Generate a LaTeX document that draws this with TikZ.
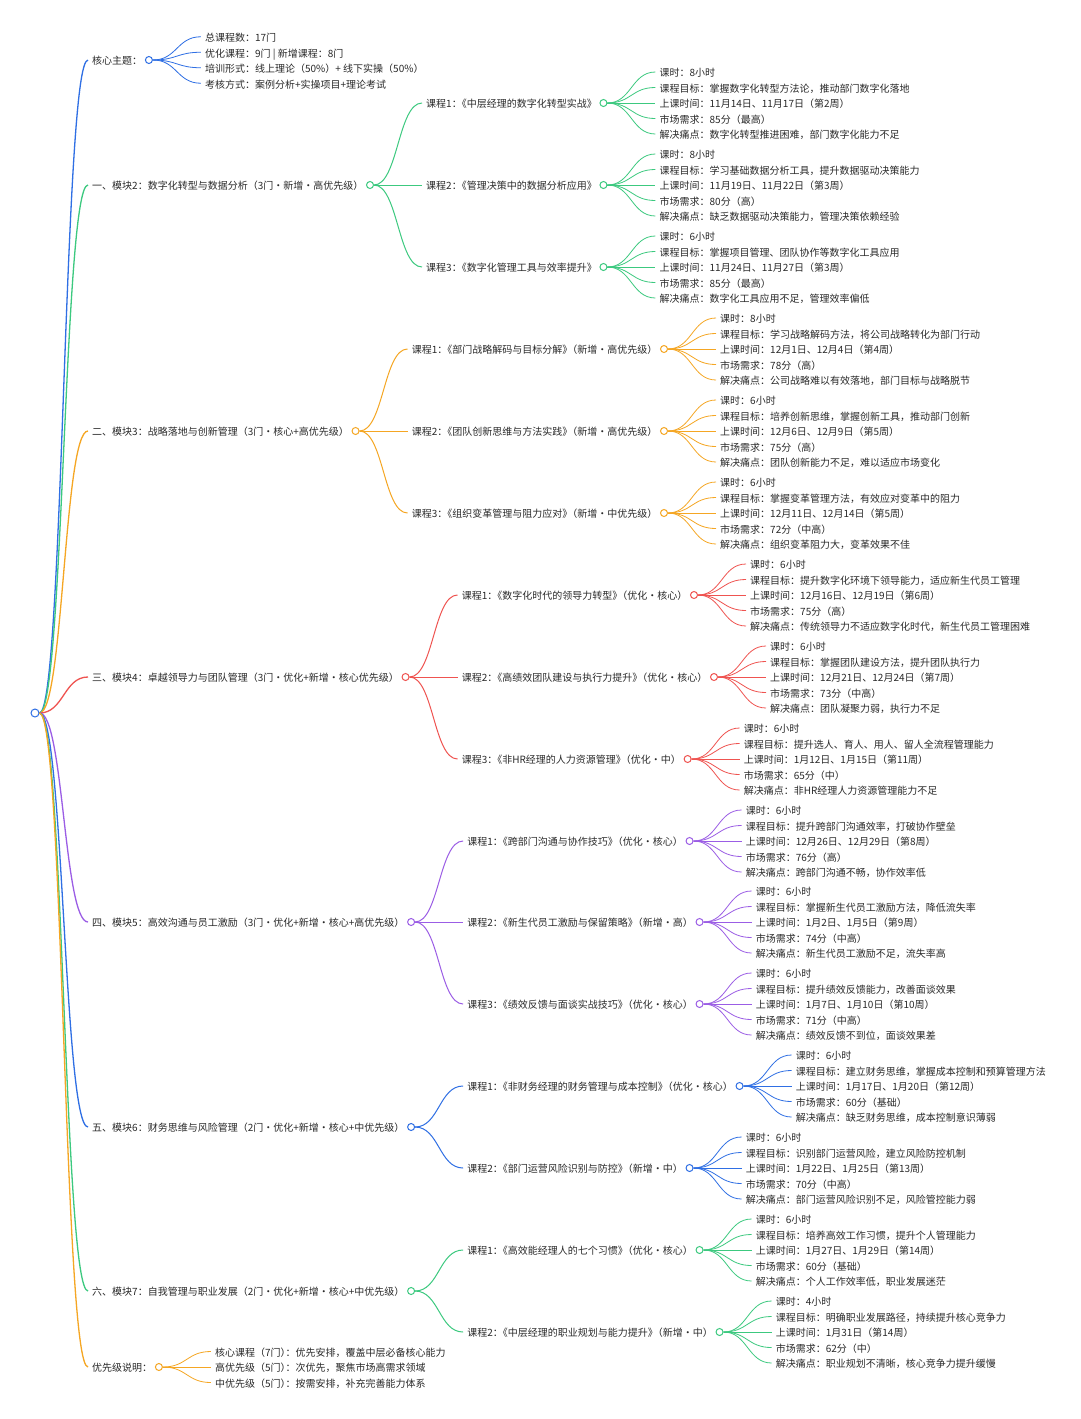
\documentclass[tikz,border=0pt]{standalone}
\usepackage{fontspec}
\setmainfont{Noto Sans CJK SC}
\usetikzlibrary{calc}
\definecolor{cblue}{HTML}{2F6FE4}
\definecolor{cgreen}{HTML}{3CC97F}
\definecolor{corange}{HTML}{F5A623}
\definecolor{cred}{HTML}{EF5350}
\definecolor{cpurple}{HTML}{9B5DE5}
\definecolor{txt}{HTML}{2A2A2A}
\newcommand\pk{\kern-.5em}
% #1 circle node, #2 name prefix, #3 colour, #4 first y offset, #5 list
\newcommand\mkleaves[5]{%
  \foreach \lt [count=\i] in {#5} {
    \node[lbl] (#2\i) at ($(#1.center)+(52,{#4+(\i-1)*15.5})$) {\lt};
    \draw[l3,draw=#3] (#1.east) to[link] (#2\i.west);
  }}
% #1 name, #2 parent circle, #3 colour, #4 y offset, #5 text
\newcommand\mkcourse[5]{%
  \node[lbl] (#1) at ($(#2.center)+(52,#4)$) {#5};
  \draw[l2,draw=#3] (#2.east) to[link] (#1.west);
  \node[dotc,draw=#3] (#1o) at ([xshift=2.5pt]#1.east) {};
}
\begin{document}
\begin{tikzpicture}[x=1pt,y=-1pt,
  lbl/.style={anchor=west,inner xsep=4pt,inner ysep=0pt,text height=10pt,text depth=0.4pt,
    font=\fontsize{10}{12}\selectfont,text=txt},
  dotc/.style={circle,fill=white,inner sep=0pt,minimum size=7pt,line width=1pt},
  l1/.style={line width=1.3pt},
  l2/.style={line width=1pt},
  l3/.style={line width=0.8pt},
  link/.style={to path={let \p1=(\tikztostart), \p2=(\tikztotarget) in
     .. controls ({0.5*\x1+0.5*\x2},\y1) and ({0.5*\x1+0.5*\x2},\y2) .. (\tikztotarget)}}]
\fill[white] (0,0) rectangle (1080,1419);
\useasboundingbox (0,0) rectangle (1080,1419);

\node[dotc,draw=cblue,minimum size=8pt] (root) at (35,713) {};

% level 1
\node[lbl] (core) at (88,60) {核心主题：};
\node[lbl] (m2) at (88,185) {一、模块2：数字化转型与数据分析（3门・新增・高优先级）};
\node[lbl] (m3) at (88,431) {二、模块3：战略落地与创新管理（3门・核心+高优先级）};
\node[lbl] (m4) at (88,677) {三、模块4：卓越领导力与团队管理（3门・优化+新增・核心优先级）};
\node[lbl] (m5) at (88,922) {四、模块5：高效沟通与员工激励（3门・优化+新增・核心+高优先级）};
\node[lbl] (m6) at (88,1127) {五、模块6：财务思维与风险管理（2门・优化+新增・核心+中优先级）};
\node[lbl] (m7) at (88,1291) {六、模块7：自我管理与职业发展（2门・优化+新增・核心+中优先级）};
\node[lbl] (pri) at (88,1367) {优先级说明：};

\draw[l1,draw=cblue] (root.east) to[link] (core.west);
\draw[l1,draw=cgreen] (root.east) to[link] (m2.west);
\draw[l1,draw=corange] (root.east) to[link] (m3.west);
\draw[l1,draw=cred] (root.east) to[link] (m4.west);
\draw[l1,draw=cpurple] (root.east) to[link] (m5.west);
\draw[l1,draw=cblue] (root.east) to[link] (m6.west);
\draw[l1,draw=cgreen] (root.east) to[link] (m7.west);
\draw[l1,draw=corange] (root.east) to[link] (pri.west);

\node[dotc,draw=cblue] (coreo) at ([xshift=2.5pt]core.east) {};
\node[dotc,draw=cgreen] (m2o) at ([xshift=2.5pt]m2.east) {};
\node[dotc,draw=corange] (m3o) at ([xshift=2.5pt]m3.east) {};
\node[dotc,draw=cred] (m4o) at ([xshift=2.5pt]m4.east) {};
\node[dotc,draw=cpurple] (m5o) at ([xshift=2.5pt]m5.east) {};
\node[dotc,draw=cblue] (m6o) at ([xshift=2.5pt]m6.east) {};
\node[dotc,draw=cgreen] (m7o) at ([xshift=2.5pt]m7.east) {};
\node[dotc,draw=corange] (prio) at ([xshift=2.5pt]pri.east) {};

% core topic
\mkleaves{coreo}{cl}{cblue}{-23.25}{总课程数：17门, 优化课程：9门 | 新增课程：8门, 培训形式：线上理论（50\%）+ 线下实操（50\%）, 考核方式：案例分析+实操项目+理论考试}

% module 2
\mkcourse{a1}{m2o}{cgreen}{-82}{课程1：\pk《中层经理的数字化转型实战》}
\mkcourse{a2}{m2o}{cgreen}{0}{课程2：\pk《管理决策中的数据分析应用》}
\mkcourse{a3}{m2o}{cgreen}{82}{课程3：\pk《数字化管理工具与效率提升》}
\mkleaves{a1o}{a1l}{cgreen}{-31}{课时：8小时, 课程目标：掌握数字化转型方法论，推动部门数字化落地, 上课时间：11月14日、11月17日（第2周）, 市场需求：85分（最高）, 解决痛点：数字化转型推进困难，部门数字化能力不足}
\mkleaves{a2o}{a2l}{cgreen}{-31}{课时：8小时, 课程目标：学习基础数据分析工具，提升数据驱动决策能力, 上课时间：11月19日、11月22日（第3周）, 市场需求：80分（高）, 解决痛点：缺乏数据驱动决策能力，管理决策依赖经验}
\mkleaves{a3o}{a3l}{cgreen}{-31}{课时：6小时, 课程目标：掌握项目管理、团队协作等数字化工具应用, 上课时间：11月24日、11月27日（第3周）, 市场需求：85分（最高）, 解决痛点：数字化工具应用不足，管理效率偏低}

% module 3
\mkcourse{b1}{m3o}{corange}{-82}{课程1：\pk《部门战略解码与目标分解》\pk（新增・高优先级）}
\mkcourse{b2}{m3o}{corange}{0}{课程2：\pk《团队创新思维与方法实践》\pk（新增・高优先级）}
\mkcourse{b3}{m3o}{corange}{82}{课程3：\pk《组织变革管理与阻力应对》\pk（新增・中优先级）}
\mkleaves{b1o}{b1l}{corange}{-31}{课时：8小时, 课程目标：学习战略解码方法，将公司战略转化为部门行动, 上课时间：12月1日、12月4日（第4周）, 市场需求：78分（高）, 解决痛点：公司战略难以有效落地，部门目标与战略脱节}
\mkleaves{b2o}{b2l}{corange}{-31}{课时：6小时, 课程目标：培养创新思维，掌握创新工具，推动部门创新, 上课时间：12月6日、12月9日（第5周）, 市场需求：75分（高）, 解决痛点：团队创新能力不足，难以适应市场变化}
\mkleaves{b3o}{b3l}{corange}{-31}{课时：6小时, 课程目标：掌握变革管理方法，有效应对变革中的阻力, 上课时间：12月11日、12月14日（第5周）, 市场需求：72分（中高）, 解决痛点：组织变革阻力大，变革效果不佳}

% module 4
\mkcourse{c1}{m4o}{cred}{-82}{课程1：\pk《数字化时代的领导力转型》\pk（优化・核心）}
\mkcourse{c2}{m4o}{cred}{0}{课程2：\pk《高绩效团队建设与执行力提升》\pk（优化・核心）}
\mkcourse{c3}{m4o}{cred}{82}{课程3：\pk《非HR经理的人力资源管理》\pk（优化・中）}
\mkleaves{c1o}{c1l}{cred}{-31}{课时：6小时, 课程目标：提升数字化环境下领导能力，适应新生代员工管理, 上课时间：12月16日、12月19日（第6周）, 市场需求：75分（高）, 解决痛点：传统领导力不适应数字化时代，新生代员工管理困难}
\mkleaves{c2o}{c2l}{cred}{-31}{课时：6小时, 课程目标：掌握团队建设方法，提升团队执行力, 上课时间：12月21日、12月24日（第7周）, 市场需求：73分（中高）, 解决痛点：团队凝聚力弱，执行力不足}
\mkleaves{c3o}{c3l}{cred}{-31}{课时：6小时, 课程目标：提升选人、育人、用人、留人全流程管理能力, 上课时间：1月12日、1月15日（第11周）, 市场需求：65分（中）, 解决痛点：非HR经理人力资源管理能力不足}

% module 5
\mkcourse{d1}{m5o}{cpurple}{-81}{课程1：\pk《跨部门沟通与协作技巧》\pk（优化・核心）}
\mkcourse{d2}{m5o}{cpurple}{0}{课程2：\pk《新生代员工激励与保留策略》\pk（新增・高）}
\mkcourse{d3}{m5o}{cpurple}{82}{课程3：\pk《绩效反馈与面谈实战技巧》\pk（优化・核心）}
\mkleaves{d1o}{d1l}{cpurple}{-31}{课时：6小时, 课程目标：提升跨部门沟通效率，打破协作壁垒, 上课时间：12月26日、12月29日（第8周）, 市场需求：76分（高）, 解决痛点：跨部门沟通不畅，协作效率低}
\mkleaves{d2o}{d2l}{cpurple}{-31}{课时：6小时, 课程目标：掌握新生代员工激励方法，降低流失率, 上课时间：1月2日、1月5日（第9周）, 市场需求：74分（中高）, 解决痛点：新生代员工激励不足，流失率高}
\mkleaves{d3o}{d3l}{cpurple}{-31}{课时：6小时, 课程目标：提升绩效反馈能力，改善面谈效果, 上课时间：1月7日、1月10日（第10周）, 市场需求：71分（中高）, 解决痛点：绩效反馈不到位，面谈效果差}

% module 6
\mkcourse{e1}{m6o}{cblue}{-41}{课程1：\pk《非财务经理的财务管理与成本控制》\pk（优化・核心）}
\mkcourse{e2}{m6o}{cblue}{41}{课程2：\pk《部门运营风险识别与防控》\pk（新增・中）}
\mkleaves{e1o}{e1l}{cblue}{-31}{课时：6小时, 课程目标：建立财务思维，掌握成本控制和预算管理方法, 上课时间：1月17日、1月20日（第12周）, 市场需求：60分（基础）, 解决痛点：缺乏财务思维，成本控制意识薄弱}
\mkleaves{e2o}{e2l}{cblue}{-31}{课时：6小时, 课程目标：识别部门运营风险，建立风险防控机制, 上课时间：1月22日、1月25日（第13周）, 市场需求：70分（中高）, 解决痛点：部门运营风险识别不足，风险管控能力弱}

% module 7
\mkcourse{f1}{m7o}{cgreen}{-41}{课程1：\pk《高效能经理人的七个习惯》\pk（优化・核心）}
\mkcourse{f2}{m7o}{cgreen}{41}{课程2：\pk《中层经理的职业规划与能力提升》\pk（新增・中）}
\mkleaves{f1o}{f1l}{cgreen}{-31}{课时：6小时, 课程目标：培养高效工作习惯，提升个人管理能力, 上课时间：1月27日、1月29日（第14周）, 市场需求：60分（基础）, 解决痛点：个人工作效率低，职业发展迷茫}
\mkleaves{f2o}{f2l}{cgreen}{-31}{课时：4小时, 课程目标：明确职业发展路径，持续提升核心竞争力, 上课时间：1月31日（第14周）, 市场需求：62分（中）, 解决痛点：职业规划不清晰，核心竞争力提升缓慢}

% priority
\mkleaves{prio}{pl}{corange}{-15.5}{核心课程（7门）\pk：优先安排，覆盖中层必备核心能力, 高优先级（5门）\pk：次优先，聚焦市场高需求领域, 中优先级（5门）\pk：按需安排，补充完善能力体系}
\end{tikzpicture}
\end{document}
